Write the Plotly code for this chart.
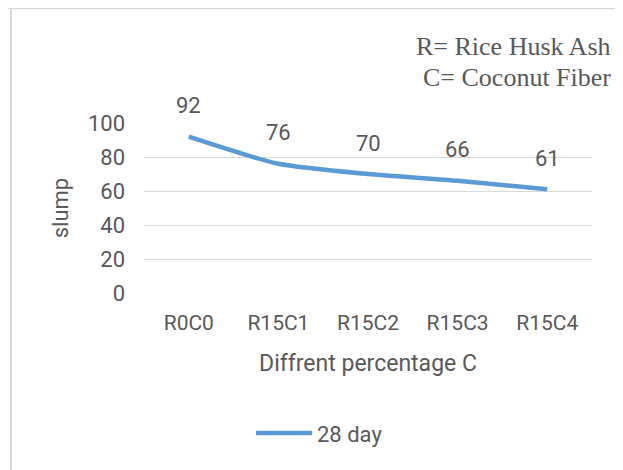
import plotly.graph_objects as go

categories = ["R0C0", "R15C1", "R15C2", "R15C3", "R15C4"]
slump_28day = [92, 76, 70, 66, 61]
y_ticks = [0, 20, 40, 60, 80, 100]
series_name = "28 day"
note_lines = ["R= Rice Husk Ash", "C= Coconut Fiber"]

FONT = "Roboto"
GREY = "#595959"
BLUE = "#5B9BD5"

# page body has an 8px margin; helpers map screenshot pixels to paper coords
H0 = 292.7
def py(pix):
    return (H0 - pix) / 170.0
def px(pix):
    return (pix - 144) / 448.0

fig = go.Figure()
fig.add_trace(go.Scatter(
    x=categories, y=slump_28day, mode="lines", name=series_name,
    line=dict(color=BLUE, width=4.5, shape="spline", smoothing=0.6),
    showlegend=True,
))

for c, v in zip(categories, slump_28day):
    fig.add_annotation(x=c, y=v, text=str(v), showarrow=False, yshift=31,
                       font=dict(family=FONT, size=22, color=GREY))

for line_text, yc in zip(note_lines, [46, 77]):
    fig.add_annotation(xref="paper", yref="paper", x=px(613), y=py(yc), xanchor="right", yanchor="middle",
                       text=line_text, showarrow=False,
                       font=dict(family="Liberation Serif", size=26, color=GREY))

border = dict(color="#d9d9d9", width=2)
fig.add_shape(type="line", xref="paper", yref="paper", x0=px(0), x1=px(619), y0=py(8), y1=py(8), line=border)
fig.add_shape(type="line", xref="paper", yref="paper", x0=px(11), x1=px(11), y0=py(8), y1=py(480), line=border)
fig.add_shape(type="line", xref="paper", yref="paper", x0=px(618), x1=px(618), y0=py(8), y1=py(480), line=border)

fig.update_layout(
    width=615, height=462,
    margin=dict(l=136, r=31, t=115, b=177, autoexpand=False),
    plot_bgcolor="white", paper_bgcolor="white",
    font=dict(family=FONT, size=22, color=GREY),
    showlegend=True,
    legend=dict(orientation="h", x=px(251), y=py(433), xanchor="left", yanchor="middle",
                itemwidth=56,
                font=dict(family=FONT, size=22, color=GREY), bgcolor="rgba(0,0,0,0)"),
)
fig.update_xaxes(range=[-0.5, 4.5], showgrid=False, showline=False, zeroline=False, ticks="",
                 ticklabelstandoff=15, automargin=False, tickfont=dict(size=21),
                 title=dict(text="Diffrent percentage C", standoff=20,
                            font=dict(family=FONT, size=23, color=GREY)))
fig.update_yaxes(range=[0, 100], tickvals=y_ticks, showgrid=True, gridcolor="#d9d9d9", gridwidth=1,
                 zeroline=False, showline=False, ticks="", ticklabelstandoff=18, automargin=False,
                 tickfont=dict(size=22),
                 title=dict(text="slump", standoff=13, font=dict(family=FONT, size=22, color=GREY)))

fig.write_html("out.html")
